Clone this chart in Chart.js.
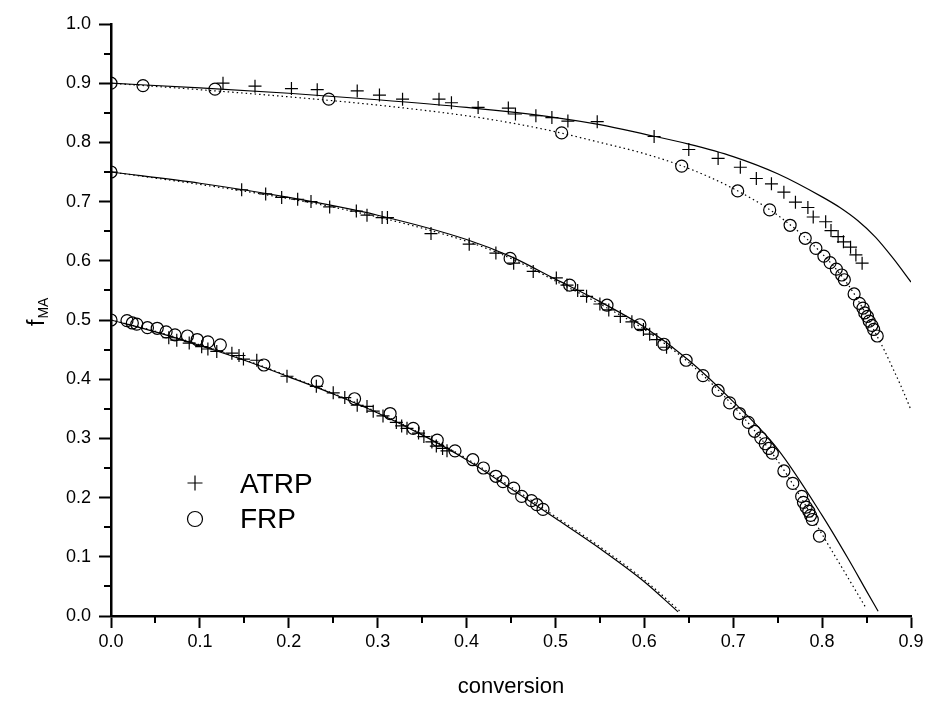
<!DOCTYPE html>
<html>
<head>
<meta charset="utf-8">
<script src="https://cdn.jsdelivr.net/npm/chart.js@4.4.0/dist/chart.umd.min.js"></script>
<style>
  html, body { margin: 0; padding: 0; background: #fff; }
</style>
</head>
<body>
<canvas id="chart" width="930" height="704"></canvas>
<script>
// measured points [conversion, fMA]
const atrpTop = [[0.126,0.900],[0.162,0.895],[0.203,0.891],[0.232,0.889],[0.277,0.887],[0.302,0.880],[0.328,0.873],[0.369,0.873],[0.383,0.867],[0.413,0.859],[0.447,0.858],[0.455,0.848],[0.478,0.845],[0.496,0.842],[0.514,0.836],[0.547,0.835],[0.611,0.810],[0.650,0.788],[0.683,0.773],[0.708,0.758],[0.726,0.739],[0.743,0.730],[0.757,0.716],[0.770,0.699],[0.784,0.690],[0.790,0.674],[0.804,0.666],[0.810,0.651],[0.818,0.641],[0.824,0.632],[0.832,0.623],[0.838,0.610],[0.845,0.596]];
const frpTop = [[0,0.900],[0.036,0.896],[0.117,0.890],[0.245,0.873],[0.507,0.816],[0.642,0.760],[0.705,0.718],[0.741,0.686],[0.764,0.660],[0.781,0.638],[0.793,0.621],[0.802,0.608],[0.809,0.597],[0.816,0.586],[0.822,0.576],[0.825,0.568],[0.836,0.544],[0.842,0.528],[0.846,0.520],[0.848,0.512],[0.851,0.506],[0.853,0.498],[0.856,0.491],[0.858,0.484],[0.862,0.473]];
const atrpMid = [[0,0.750],[0.147,0.720],[0.174,0.713],[0.192,0.707],[0.210,0.704],[0.225,0.700],[0.246,0.691],[0.276,0.684],[0.288,0.677],[0.305,0.673],[0.311,0.673],[0.360,0.646],[0.403,0.628],[0.433,0.613],[0.453,0.596],[0.475,0.582],[0.501,0.571],[0.513,0.559],[0.525,0.550],[0.535,0.540],[0.550,0.527],[0.560,0.517],[0.573,0.506],[0.586,0.497],[0.599,0.484],[0.606,0.476],[0.614,0.467],[0.625,0.454]];
const frpMid = [[0,0.750],[0.449,0.604],[0.516,0.559],[0.558,0.525],[0.595,0.492],[0.622,0.459],[0.647,0.432],[0.666,0.406],[0.683,0.381],[0.696,0.360],[0.707,0.342],[0.717,0.327],[0.724,0.312],[0.731,0.301],[0.736,0.291],[0.740,0.283],[0.744,0.275],[0.757,0.245],[0.767,0.224],[0.777,0.202],[0.779,0.192],[0.782,0.184],[0.785,0.177],[0.787,0.170],[0.789,0.163],[0.797,0.135]];
const atrpLow = [[0.065,0.470],[0.074,0.466],[0.088,0.461],[0.102,0.455],[0.109,0.451],[0.119,0.447],[0.136,0.444],[0.144,0.440],[0.149,0.434],[0.164,0.432],[0.198,0.405],[0.231,0.388],[0.250,0.377],[0.263,0.369],[0.277,0.356],[0.288,0.354],[0.295,0.346],[0.306,0.338],[0.321,0.327],[0.327,0.321],[0.333,0.317],[0.346,0.309],[0.352,0.303],[0.361,0.294],[0.366,0.287],[0.373,0.283],[0.378,0.279]];
const frpLow = [[0,0.500],[0.018,0.499],[0.024,0.495],[0.029,0.493],[0.041,0.487],[0.052,0.486],[0.062,0.480],[0.072,0.475],[0.086,0.473],[0.097,0.467],[0.109,0.463],[0.123,0.458],[0.172,0.424],[0.232,0.396],[0.274,0.367],[0.314,0.342],[0.340,0.317],[0.367,0.297],[0.387,0.279],[0.407,0.264],[0.419,0.250],[0.433,0.236],[0.441,0.227],[0.453,0.216],[0.462,0.202],[0.473,0.195],[0.479,0.188],[0.486,0.180]];

// model curves: solid = ATRP, dotted = FRP
const fitAtrpTop = [[0,0.900],[0.1,0.892],[0.2,0.883],[0.3,0.872],[0.4,0.859],[0.5,0.842],[0.55,0.830],[0.6,0.814],[0.65,0.797],[0.7,0.776],[0.75,0.747],[0.8,0.708],[0.82,0.690],[0.84,0.668],[0.86,0.640],[0.88,0.604],[0.9,0.564]];
const fitFrpTop = [[0,0.900],[0.1,0.889],[0.2,0.877],[0.3,0.863],[0.4,0.845],[0.45,0.833],[0.5,0.818],[0.55,0.800],[0.6,0.781],[0.65,0.756],[0.7,0.722],[0.75,0.677],[0.8,0.612],[0.83,0.558],[0.85,0.508],[0.86,0.478],[0.87,0.449],[0.88,0.417],[0.89,0.384],[0.9,0.348]];
const fitAtrpMid = [[0,0.750],[0.1,0.731],[0.2,0.707],[0.3,0.677],[0.4,0.636],[0.45,0.607],[0.5,0.569],[0.55,0.531],[0.6,0.488],[0.65,0.432],[0.7,0.362],[0.75,0.282],[0.8,0.170],[0.83,0.095],[0.85,0.042],[0.863,0.008]];
const fitFrpMid = [[0,0.750],[0.1,0.729],[0.2,0.705],[0.3,0.674],[0.4,0.633],[0.45,0.604],[0.5,0.566],[0.55,0.527],[0.6,0.484],[0.65,0.428],[0.7,0.355],[0.75,0.262],[0.775,0.203],[0.8,0.138],[0.825,0.075],[0.85,0.012]];
const fitAtrpLow = [[0,0.500],[0.05,0.480],[0.1,0.457],[0.15,0.432],[0.2,0.404],[0.25,0.375],[0.3,0.343],[0.35,0.306],[0.4,0.264],[0.45,0.215],[0.5,0.165],[0.55,0.114],[0.6,0.058],[0.638,0.007]];
const fitFrpLow = [[0,0.500],[0.05,0.481],[0.1,0.458],[0.15,0.433],[0.2,0.405],[0.25,0.376],[0.3,0.344],[0.35,0.307],[0.4,0.266],[0.45,0.218],[0.5,0.168],[0.55,0.117],[0.6,0.061],[0.641,0.007]];

const FONT = "'Liberation Sans', Arial, sans-serif";
Chart.defaults.font.family = FONT;
Chart.defaults.color = '#000';

const toXY = pairs => pairs.map(([x, y]) => ({ x, y }));

function curve(pairs, dotted) {
    return {
        data: toXY(pairs),
        showLine: true,
        borderColor: '#000',
        borderWidth: 1.2,
        borderDash: dotted ? [1.5, 3] : [],
        pointRadius: 0,
        cubicInterpolationMode: 'monotone',
        fill: false
    };
}

function marks(pairs, style) {
    return {
        data: toXY(pairs),
        showLine: false,
        pointStyle: style,
        pointRadius: style === 'cross' ? 6.5 : 6,
        pointBorderWidth: 1.2,
        borderColor: '#000',
        backgroundColor: 'rgba(0,0,0,0)'
    };
}

// minor ticks, y title with subscript, legend box inside the plot
const extras = {
    id: 'extras',
    afterDraw(chart) {
        const { ctx, chartArea, scales: { x, y } } = chart;
        ctx.save();
        ctx.strokeStyle = '#000';
        ctx.lineWidth = 2;
        ctx.beginPath();
        for (let i = 0; i < 9; i++) {
            const px = Math.round(x.getPixelForValue(0.05 + i * 0.1));
            ctx.moveTo(px, chartArea.bottom);
            ctx.lineTo(px, chartArea.bottom + 7);
        }
        for (let i = 0; i < 10; i++) {
            const py = Math.round(y.getPixelForValue(0.05 + i * 0.1));
            ctx.moveTo(chartArea.left - 7, py);
            ctx.lineTo(chartArea.left, py);
        }
        ctx.stroke();

        // f_MA
        ctx.fillStyle = '#000';
        ctx.translate(44, 326);
        ctx.rotate(-Math.PI / 2);
        ctx.textAlign = 'left';
        ctx.textBaseline = 'alphabetic';
        ctx.font = '23px ' + FONT;
        ctx.fillText('f', 0, 0);
        const w = ctx.measureText('f').width;
        ctx.font = '14px ' + FONT;
        ctx.fillText('MA', w + 1, 4);
        ctx.restore();

        // legend
        ctx.save();
        ctx.strokeStyle = '#000';
        ctx.fillStyle = '#000';
        ctx.lineWidth = 1.2;
        ctx.beginPath();
        ctx.moveTo(187.5, 483); ctx.lineTo(202.5, 483);
        ctx.moveTo(195, 475.5); ctx.lineTo(195, 490.5);
        ctx.stroke();
        ctx.beginPath();
        ctx.arc(195, 519, 7.5, 0, Math.PI * 2);
        ctx.stroke();
        ctx.font = '28px ' + FONT;
        ctx.textBaseline = 'alphabetic';
        ctx.fillText('ATRP', 240, 493);
        ctx.fillText('FRP', 240, 528);
        ctx.restore();
    }
};

const axisCommon = {
    type: 'linear',
    grid: { drawOnChartArea: false, drawTicks: true, tickLength: 12, tickWidth: 2, tickColor: '#000' },
    border: { display: true, color: '#000', width: 2.5 }
};

new Chart(document.getElementById('chart'), {
    type: 'scatter',
    data: {
        datasets: [
            curve(fitAtrpTop, false), curve(fitFrpTop, true),
            curve(fitAtrpMid, false), curve(fitFrpMid, true),
            curve(fitAtrpLow, false), curve(fitFrpLow, true),
            marks(atrpTop, 'cross'), marks(atrpMid, 'cross'), marks(atrpLow, 'cross'),
            marks(frpTop, 'circle'), marks(frpMid, 'circle'), marks(frpLow, 'circle')
        ]
    },
    options: {
        responsive: false,
        animation: false,
        events: [],
        layout: { padding: { top: 24, right: 19, bottom: 0, left: 0 } },
        plugins: { legend: { display: false }, tooltip: { enabled: false } },
        scales: {
            x: {
                ...axisCommon,
                min: 0, max: 0.9,
                ticks: { stepSize: 0.1, autoSkip: false, maxRotation: 0, padding: 3, color: '#000',
                         font: { size: 18 }, callback: v => v.toFixed(1) },
                title: { display: true, text: 'conversion', color: '#000', font: { size: 22 },
                         padding: { top: 0, bottom: 4 } },
                afterFit: s => { s.height = 88; }
            },
            y: {
                ...axisCommon,
                min: 0, max: 1,
                ticks: { stepSize: 0.1, autoSkip: false, padding: 8, color: '#000',
                         font: { size: 18 }, callback: v => v.toFixed(1) },
                afterFit: s => { s.width = 111; }
            }
        }
    },
    plugins: [extras]
});
</script>
</body>
</html>
